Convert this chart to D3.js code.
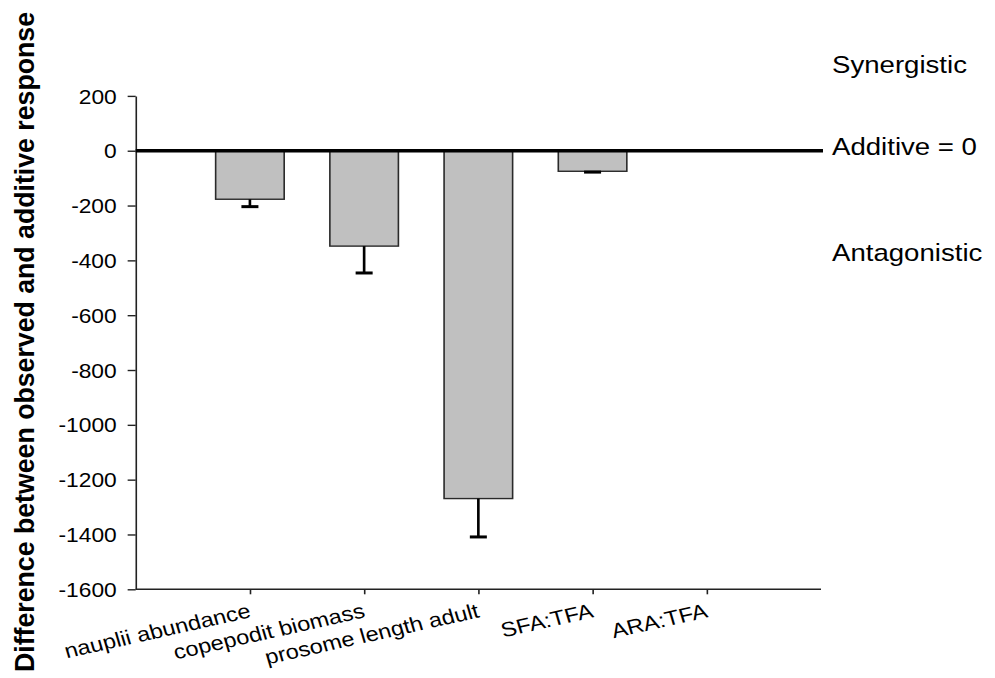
<!DOCTYPE html>
<html>
<head>
<meta charset="utf-8">
<script src="https://cdn.jsdelivr.net/npm/d3@7"></script>
<style>
html,body{margin:0;padding:0;background:#fff;}
svg{display:block;}
text{font-family:Arial,"Liberation Sans",sans-serif;fill:#000;}
</style>
</head>
<body>
<svg id="chart" width="995" height="678"></svg>
<script>
const categories = ["nauplii abundance","copepodit biomass","prosome length adult","SFA:TFA","ARA:TFA"];
const values = [-177, -348, -1269, -75, 0];
const errors = [27, 98, 140, 3, 0];
const yTicks = [200, 0, -200, -400, -600, -800, -1000, -1200, -1400, -1600];
const zoneLabels = ["Synergistic", "Additive = 0", "Antagonistic"];

(function () {
// Original figure is horizontally stretched; draw in an internal space and stretch.
const SX = 1.15;
const W = 995 / SX, H = 678;
const svg = d3.select("#chart")
  .attr("viewBox", `0 0 ${W} ${H}`)
  .attr("preserveAspectRatio", "none");

const mLeft = 135.7 / SX, mRight = 821 / SX;
const mTop = 95.9, mBottom = 589.3;

const x = d3.scalePoint().domain(categories).range([mLeft, mRight]).padding(1);
const y = d3.scaleLinear().domain([-1600, 200]).range([mBottom, mTop]);
const barW = x.step() * 0.6;

const rows = categories.map((c, i) => ({c, v: values[i], e: errors[i]}));

// Y axis
const yAxis = svg.append("g").attr("transform", `translate(${mLeft},0)`)
  .call(d3.axisLeft(y).tickValues(yTicks).tickSize(7).tickSizeOuter(0).tickFormat(d => String(d)));
yAxis.selectAll("path,line").attr("stroke", "#222").attr("stroke-width", 1.4);
yAxis.selectAll("text").attr("font-size", 19.8).attr("x", -19 / SX).attr("dy", "0.36em")
  .attr("fill", "#000")
  .style("font-family", "Arial, 'Liberation Sans', sans-serif");

// X axis
const xAxis = svg.append("g").attr("transform", `translate(0,${mBottom})`)
  .call(d3.axisBottom(x).tickSize(5).tickSizeOuter(0).tickFormat(""));
xAxis.select("path.domain").attr("d", `M${mLeft},0H${mRight}`);
xAxis.selectAll("path,line").attr("stroke", "#222").attr("stroke-width", 1.4);

// Category labels (rotated)
svg.append("g").selectAll("text").data(categories).join("text")
  .attr("transform", d => `translate(${x(d) + 2 / SX},617) rotate(-14.4)`)
  .attr("text-anchor", "end")
  .attr("font-size", 20.5)
  .text(d => d);

// Bars
svg.append("g").selectAll("rect").data(rows).join("rect")
  .attr("x", d => x(d.c) - barW / 2)
  .attr("width", barW)
  .attr("y", d => y(Math.max(0, d.v)))
  .attr("height", d => Math.abs(y(d.v) - y(0)))
  .attr("fill", "#c0c0c0")
  .attr("stroke", "#2a2a2a")
  .attr("stroke-width", 1.4);

// Error bars (downward)
const eb = svg.append("g").selectAll("g").data(rows.filter(d => d.e > 0)).join("g");
eb.append("line")
  .attr("x1", d => x(d.c)).attr("x2", d => x(d.c))
  .attr("y1", d => y(d.v)).attr("y2", d => y(d.v - d.e))
  .attr("stroke", "#000").attr("stroke-width", 2.3);
eb.append("line")
  .attr("x1", d => x(d.c) - 7.4).attr("x2", d => x(d.c) + 7.4)
  .attr("y1", d => y(d.v - d.e)).attr("y2", d => y(d.v - d.e))
  .attr("stroke", "#000").attr("stroke-width", 3);

// Zero (additive) line
svg.append("line")
  .attr("x1", mLeft).attr("x2", 823 / SX)
  .attr("y1", y(0)).attr("y2", y(0))
  .attr("stroke", "#000").attr("stroke-width", 3.6);

// Zone labels
const zoneY = [73, 155, 261];
svg.append("g").selectAll("text").data(zoneLabels).join("text")
  .attr("x", 832 / SX)
  .attr("y", (d, i) => zoneY[i])
  .attr("font-size", 24)
  .text(d => d);

// Y axis title
svg.append("text")
  .attr("transform", `translate(${33.5 / SX},342) rotate(-90)`)
  .attr("text-anchor", "middle")
  .attr("font-size", 23.5)
  .attr("font-weight", "bold")
  .attr("textLength", 660)
  .attr("lengthAdjust", "spacingAndGlyphs")
  .text("Difference between observed and additive response");
})();
</script>
</body>
</html>
